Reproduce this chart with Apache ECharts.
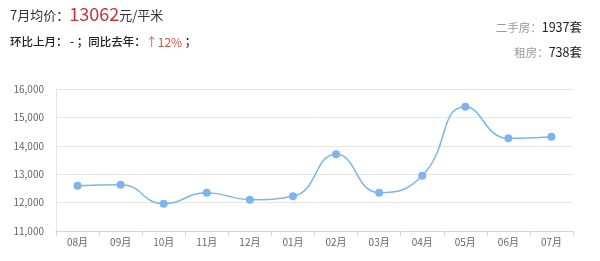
<!DOCTYPE html>
<html><head><meta charset="utf-8">
<script src="https://cdn.jsdelivr.net/npm/echarts@6/dist/echarts.min.js"></script>
<style>html,body{margin:0;padding:0;background:#fff}#c{width:600px;height:261px}</style>
</head><body><div id="c"></div>
<script>
const months = ['08月','09月','10月','11月','12月','01月','02月','03月','04月','05月','06月','07月'];
const prices = [12596,12631,11962,12350,12103,12221,13700,12350,12948,15378,14263,14322];
const yTicks = [11000,12000,13000,14000,15000,16000];
const avgPrice = '13062';
const yoy = '12%';
const secondHand = '1937';
const rental = '738';

const FONT = '"Noto Sans CJK SC", "Noto Sans", sans-serif';
const chart = echarts.init(document.getElementById('c'));
chart.setOption({
  animation: false,
  textStyle: {fontFamily: FONT},
  title: [
    {left: 5, top: 0, text: '{a|7月均价：}{b|' + avgPrice + '}{a|元/平米}',
     textStyle: {fontWeight: 'normal', rich: {a: {fontSize: 13, color: '#333', fontWeight: 'normal', fontFamily: FONT, padding:[3,0,0,0]}, b: {fontSize: 18, color: '#c0373b', fontWeight: 'normal', fontFamily: FONT}}}},
    {left: 5, top: 31, text: '{a|环比上月： - ；同比去年：}{c|↑' + yoy + '}{a| ；}',
     textStyle: {fontWeight: 'normal', rich: {a: {fontSize: 11.5, color: '#222', fontFamily: FONT, fontWeight: 500}, c: {fontSize: 12, color: '#c9524a', fontWeight: 'normal', fontFamily: FONT}}}},
    {right: 13, top: 16, text: '{g|二手房：}{d|' + secondHand + '套}',
     textStyle: {fontWeight: 'normal', rich: {g: {fontSize: 11.5, color: '#999', fontWeight: 'normal', fontFamily: FONT}, d: {fontSize: 12.5, color: '#222', fontWeight: 'normal', fontFamily: FONT}}}},
    {right: 13, top: 41, text: '{g|租房：}{d|' + rental + '套}',
     textStyle: {fontWeight: 'normal', rich: {g: {fontSize: 11.5, color: '#999', fontWeight: 'normal', fontFamily: FONT}, d: {fontSize: 12.5, color: '#222', fontWeight: 'normal', fontFamily: FONT}}}}
  ],
  grid: {left: 56, right: 27, top: 89, bottom: 30},
  xAxis: {
    type: 'category', data: months, boundaryGap: true,
    axisLine: {lineStyle: {color: '#ccd6eb'}},
    axisTick: {show: true, length: 5, lineStyle: {color: '#ccd6eb'}},
    axisLabel: {color: '#666', fontSize: 10, margin: 6, fontFamily: FONT}
  },
  yAxis: {
    type: 'value', min: yTicks[0], max: yTicks[yTicks.length-1], interval: 1000,
    axisLine: {show: true, lineStyle: {color: '#e6e6e6'}},
    axisTick: {show: false},
    splitLine: {lineStyle: {color: '#e6e6e6'}},
    axisLabel: {color: '#666', fontSize: 10, margin: 12, fontFamily: FONT,
      formatter: v => v.toLocaleString('en-US')}
  },
  series: [{
    type: 'line', data: prices, smooth: 0.5,
    symbol: 'circle', symbolSize: 8,
    lineStyle: {color: '#7cb5ec', width: 1.5},
    itemStyle: {color: '#7cb5ec'}
  }]
});
</script></body></html>
